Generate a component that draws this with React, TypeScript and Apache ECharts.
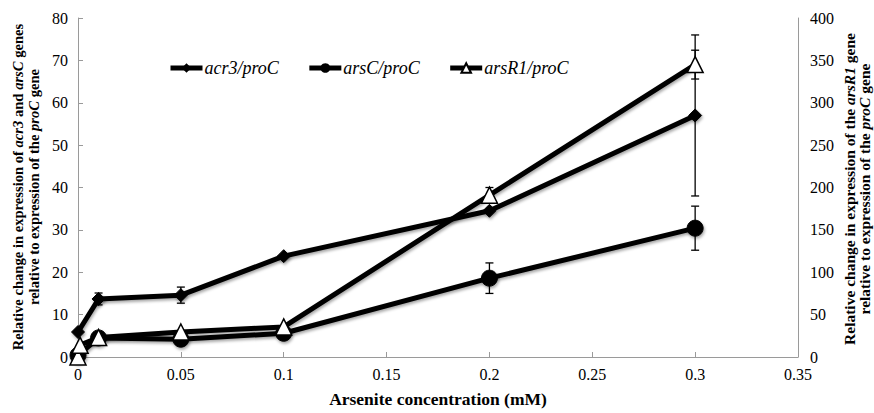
import React, { useEffect, useRef } from "react";
import * as echarts from "echarts";

const concentrations = [0, 0.01, 0.05, 0.1, 0.2, 0.3];
const acr3Values = [5.9, 13.7, 14.6, 23.8, 34.5, 57.0];
const acr3Errors = [0, 1.4, 1.9, 0, 0, 19];
const arsCValues = [0.4, 4.5, 4.2, 5.6, 18.6, 30.4];
const arsCErrors = [0, 0, 0, 0, 3.6, 5.2];
const arsR1Conc = [0, 0.001, 0.01, 0.05, 0.1, 0.2, 0.3];
const arsR1Values = [0, 14, 23, 29.5, 35.5, 191, 345];
const arsR1Errors = [0, 0, 0, 0, 0, 9, 17];

const xTicks = { min: 0, max: 0.35, interval: 0.05 };
const leftTicks = { min: 0, max: 80, interval: 10 };
const rightTicks = { min: 0, max: 400, interval: 50 };

const SERIF = "Liberation Serif";

function errorData(xs: number[], ys: number[], es: number[]) {
  const out: number[][] = [];
  xs.forEach((x, i) => {
    if (es[i] > 0) out.push([x, ys[i] - es[i], ys[i] + es[i]]);
  });
  return out;
}

function errorSeries(data: number[][], yAxisIndex: number) {
  return {
    type: "custom",
    yAxisIndex,
    z: 1,
    silent: true,
    encode: { x: 0, y: [1, 2] },
    data,
    renderItem: (params: any, api: any) => {
      const x = api.value(0);
      const lo = api.coord([x, api.value(1)]);
      const hi = api.coord([x, api.value(2)]);
      const w = 4;
      const style = { stroke: "#000", lineWidth: 1.3 };
      return {
        type: "group",
        children: [
          { type: "line", shape: { x1: lo[0], y1: lo[1], x2: hi[0], y2: hi[1] }, style },
          { type: "line", shape: { x1: lo[0] - w, y1: lo[1], x2: lo[0] + w, y2: lo[1] }, style },
          { type: "line", shape: { x1: hi[0] - w, y1: hi[1], x2: hi[0] + w, y2: hi[1] }, style },
        ],
      };
    },
  };
}

const lineShadow = {
  shadowBlur: 3,
  shadowColor: "rgba(0,0,0,0.35)",
  shadowOffsetX: 1,
  shadowOffsetY: 2,
};

export default function App() {
  const ref = useRef<HTMLDivElement>(null);
  useEffect(() => {
    if (!ref.current) return;
    const chart = echarts.init(ref.current, undefined, { renderer: "svg" });
    const axisLabel = { color: "#000", fontFamily: SERIF, fontSize: 16 };
    const axisLine = { show: true, lineStyle: { color: "#9a9a9a", width: 1 } };
    const titleStyle = {
      fill: "#000",
      fontFamily: SERIF,
      fontWeight: "bold",
      align: "center",
      verticalAlign: "middle",
    };
    chart.setOption({
      animation: false,
      backgroundColor: "#fff",
      textStyle: { fontFamily: SERIF },
      grid: { left: 78, right: 76, top: 18, bottom: 56, containLabel: false },
      legend: {
        left: 163,
        top: 54,
        itemWidth: 32,
        itemHeight: 12,
        itemGap: 28,
        lineStyle: { width: 5 },
        textStyle: { color: "#000", fontFamily: SERIF, fontSize: 18, fontStyle: "italic", padding: [0, 0, 0, -3] },
        data: ["acr3/proC", "arsC/proC", "arsR1/proC"],
      },
      xAxis: {
        type: "value",
        ...xTicks,
        axisLine,
        axisTick: { show: true, inside: true, length: 5, lineStyle: { color: "#9a9a9a" } },
        splitLine: { show: false },
        axisLabel: { ...axisLabel, margin: 9 },
        name: "Arsenite concentration (mM)",
        nameLocation: "middle",
        nameGap: 33,
        nameTextStyle: { color: "#000", fontFamily: SERIF, fontSize: 17.5, fontWeight: "bold" },
      },
      yAxis: [
        {
          type: "value",
          ...leftTicks,
          axisLine,
          axisTick: { show: true, inside: true, length: 5, lineStyle: { color: "#9a9a9a" } },
          splitLine: { show: false },
          axisLabel: { ...axisLabel, margin: 10 },
        },
        {
          type: "value",
          ...rightTicks,
          position: "right",
          axisLine,
          axisTick: { show: false },
          splitLine: { show: false },
          axisLabel: { ...axisLabel, margin: 12 },
        },
      ],
      graphic: [
        {
          type: "text",
          x: 26,
          y: 187,
          rotation: Math.PI / 2,
          style: {
            ...titleStyle,
            fontSize: 14.6,
            text: "Relative change in expression of {i|acr3} and {i|arsC} genes\nrelative to expression of the {i|proC} gene",
            lineHeight: 16,
            rich: {
              i: { fontStyle: "italic", fontWeight: "bold", fontFamily: SERIF, fontSize: 14.6, lineHeight: 16 },
            },
          },
        },
        {
          type: "text",
          x: 857,
          y: 189,
          rotation: Math.PI / 2,
          style: {
            ...titleStyle,
            fontSize: 15.5,
            text: "Relative change in expression of the {i|arsR1} gene\nrelative to expression of the {i|proC} gene",
            lineHeight: 14.5,
            rich: {
              i: { fontStyle: "italic", fontWeight: "bold", fontFamily: SERIF, fontSize: 15.5, lineHeight: 14.5 },
            },
          },
        },
      ],
      series: [
        errorSeries(errorData(concentrations, acr3Values, acr3Errors), 0),
        errorSeries(errorData(concentrations, arsCValues, arsCErrors), 0),
        errorSeries(errorData(arsR1Conc, arsR1Values, arsR1Errors), 1),
        {
          name: "arsC/proC",
          type: "line",
          yAxisIndex: 0,
          z: 2,
          data: concentrations.map((x, i) => [x, arsCValues[i]]),
          symbol: "circle",
          symbolSize: 16,
          lineStyle: { color: "#000", width: 5, ...lineShadow },
          itemStyle: { color: "#000", borderColor: "#000", ...lineShadow },
        },
        {
          name: "arsR1/proC",
          type: "line",
          yAxisIndex: 1,
          z: 3,
          data: arsR1Conc.map((x, i) => [x, arsR1Values[i]]),
          symbol: "triangle",
          symbolSize: 16,
          lineStyle: { color: "#000", width: 5, ...lineShadow },
          itemStyle: { color: "#fff", borderColor: "#000", borderWidth: 1.5 },
        },
        {
          name: "acr3/proC",
          type: "line",
          yAxisIndex: 0,
          z: 4,
          data: concentrations.map((x, i) => [x, acr3Values[i]]),
          symbol: "diamond",
          symbolSize: 13,
          lineStyle: { color: "#000", width: 5, ...lineShadow },
          itemStyle: { color: "#000", borderColor: "#000", ...lineShadow },
        },
      ],
    });
    return () => chart.dispose();
  }, []);
  return <div ref={ref} style={{ width: 874, height: 413, position: "absolute", left: 0, top: 0 }} />;
}
